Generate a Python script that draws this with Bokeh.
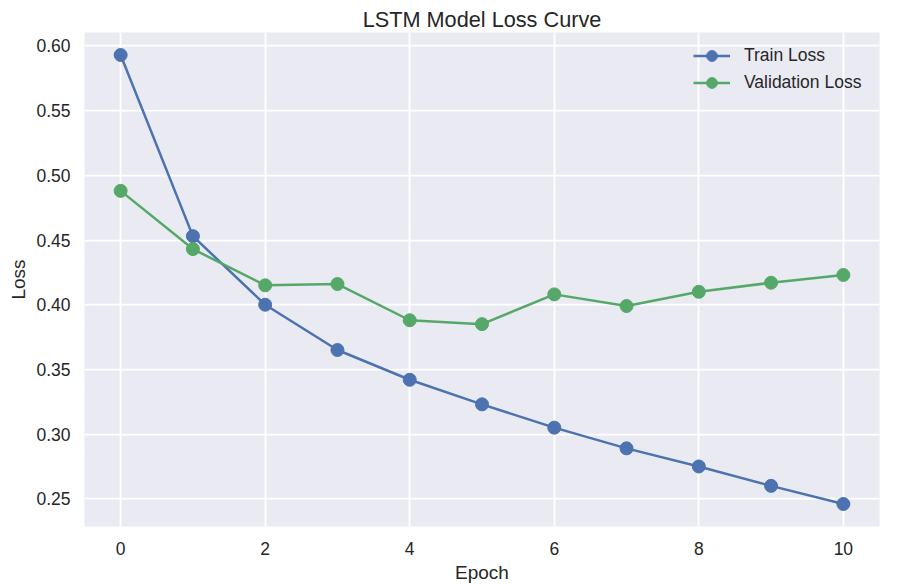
from bokeh.plotting import figure
from bokeh.models import FixedTicker, Range1d, Legend, LegendItem
from bokeh.embed import file_html
from bokeh.resources import INLINE

epochs = [0, 1, 2, 3, 4, 5, 6, 7, 8, 9, 10]
train_loss = [0.593, 0.453, 0.400, 0.365, 0.342, 0.323, 0.305, 0.289, 0.275, 0.260, 0.246]
val_loss = [0.488, 0.443, 0.415, 0.416, 0.388, 0.385, 0.408, 0.399, 0.410, 0.417, 0.423]
x_ticks = [0, 2, 4, 6, 8, 10]
y_ticks = [0.25, 0.30, 0.35, 0.40, 0.45, 0.50, 0.55, 0.60]
y_tick_labels = ["0.25", "0.30", "0.35", "0.40", "0.45", "0.50", "0.55", "0.60"]

FONT = "Liberation Sans"
TXT = "#262626"
BLUE = "#4C72B0"
GREEN = "#55A868"

p = figure(width=903, height=587, output_backend="svg", toolbar_location=None,
           x_range=Range1d(-0.5, 10.5), y_range=Range1d(0.2286, 0.6104),
           min_border_left=84, min_border_right=24, min_border_top=32, min_border_bottom=61)

p.title.text = "LSTM Model Loss Curve"
p.title.align = "center"
p.title.text_font = FONT
p.title.text_font_size = "21.7px"
p.title.text_font_style = "normal"
p.title.text_color = TXT
p.title.standoff = 2

p.background_fill_color = "#EAEAF2"
p.border_fill_color = "white"
p.outline_line_color = None

p.xaxis.ticker = FixedTicker(ticks=x_ticks)
p.yaxis.ticker = FixedTicker(ticks=y_ticks)
p.yaxis.major_label_overrides = {t: l for t, l in zip(y_ticks, y_tick_labels)}

for ax in (p.xaxis[0], p.yaxis[0]):
    ax.axis_line_color = None
    ax.major_tick_line_color = None
    ax.minor_tick_line_color = None
    ax.major_label_text_font = FONT
    ax.major_label_text_font_size = "17.5px"
    ax.major_label_text_color = TXT
    ax.axis_label_text_font = FONT
    ax.axis_label_text_font_size = "19px"
    ax.axis_label_text_font_style = "normal"
    ax.axis_label_text_color = TXT

p.xaxis.axis_label = "Epoch"
p.yaxis.axis_label = "Loss"
p.xaxis.major_label_standoff = 9
p.xaxis.axis_label_standoff = 4
p.yaxis.major_label_standoff = 8
p.yaxis.axis_label_standoff = 4

p.grid.grid_line_color = "white"
p.grid.grid_line_width = 1.75
p.xgrid.ticker = FixedTicker(ticks=x_ticks)
p.ygrid.ticker = FixedTicker(ticks=y_ticks)

l1 = p.line(epochs, train_loss, line_color=BLUE, line_width=2.5)
s1 = p.scatter(epochs, train_loss, size=13, fill_color=BLUE, line_color=BLUE)
l2 = p.line(epochs, val_loss, line_color=GREEN, line_width=2.5)
s2 = p.scatter(epochs, val_loss, size=13, fill_color=GREEN, line_color=GREEN)

legend = Legend(items=[LegendItem(label="Train Loss", renderers=[l1, s1]),
                       LegendItem(label="Validation Loss", renderers=[l2, s2])],
                location="top_right")
legend.background_fill_alpha = 0
legend.border_line_color = None
legend.label_text_font = FONT
legend.label_text_font_size = "17.5px"
legend.label_text_color = TXT
legend.glyph_width = 37
legend.glyph_height = 27
legend.label_height = 27
legend.label_width = 125
legend.label_standoff = 14
legend.spacing = 0
legend.margin = 10
legend.padding = 10
p.add_layout(legend)

open("out.html", "w").write(file_html(p, INLINE))
